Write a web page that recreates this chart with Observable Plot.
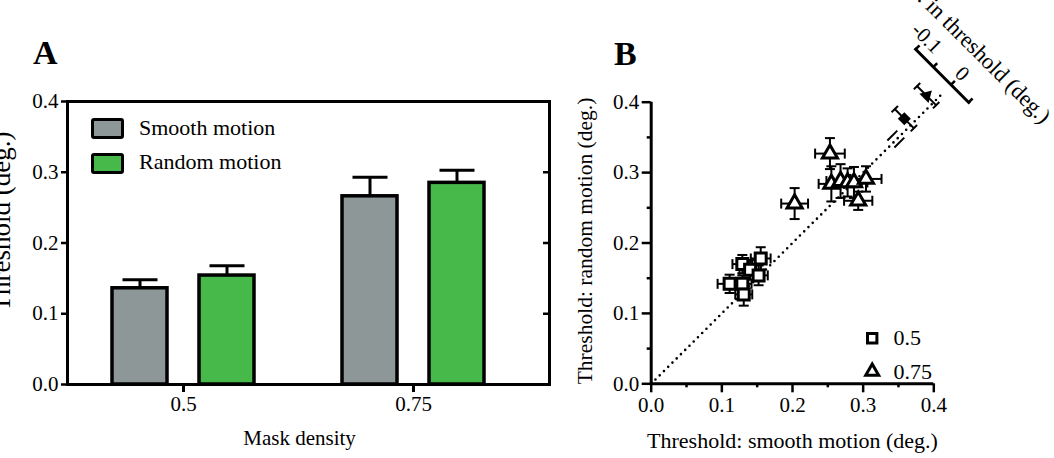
<!DOCTYPE html>
<html><head><meta charset="utf-8">
<script src="https://cdn.jsdelivr.net/npm/d3@7"></script>
<script src="https://cdn.jsdelivr.net/npm/@observablehq/plot@0.6"></script>
<style>
html,body{margin:0;padding:0;background:#fff;overflow:hidden}
#root{position:relative;width:1054px;height:458px;overflow:hidden;background:#fff;font-family:"Liberation Serif","Times New Roman",serif;color:#000}
#root > *{position:absolute}
.letter{font-weight:bold;font-size:34px;line-height:1}
.lgtext{font-size:22px;line-height:1;white-space:nowrap}
.swatch{box-sizing:border-box;width:33px;height:21px;border:3.5px solid #000;border-radius:3px}
</style></head><body><div id="root"></div>
<script>
// ---------- Panel A data ----------
const densities = ["0.5", "0.75"];
const seriesNames = ["Smooth motion", "Random motion"];
const smoothMean = [0.136, 0.266];
const smoothSem = [0.012, 0.027];
const randomMean = [0.154, 0.285];
const randomSem = [0.014, 0.018];
const seriesColors = ["#8e9797", "#47b94b"];
const yTicks = [0, 0.1, 0.2, 0.3, 0.4];
const minorTicks = [0.05, 0.15, 0.25, 0.35];

// ---------- Panel B data (per-observer thresholds, deg.) ----------
const squareSmooth = [0.111, 0.129, 0.131, 0.129, 0.140, 0.155, 0.152];
const squareRandom = [0.142, 0.142, 0.127, 0.170, 0.162, 0.178, 0.154];
const squareSmoothErr = [0.017, 0.013, 0.012, 0.014, 0.015, 0.014, 0.013];
const squareRandomErr = [0.013, 0.012, 0.016, 0.013, 0.014, 0.016, 0.014];
const triSmooth = [0.203, 0.253, 0.255, 0.268, 0.278, 0.287, 0.293, 0.304];
const triRandom = [0.256, 0.327, 0.284, 0.288, 0.286, 0.286, 0.260, 0.291];
const triSmoothErr = [0.019, 0.021, 0.018, 0.020, 0.020, 0.019, 0.020, 0.022];
const triRandomErr = [0.022, 0.022, 0.025, 0.024, 0.020, 0.022, 0.013, 0.018];
const legendGroups = ["0.5", "0.75"];

// identity line and its break
const diagonal = [0, 0.415];
const axisBreak = [0.347];
const diffAxisOrigin = 0.425;

// mean differences (smooth - random) on the rotated axis
const diffGroups = ["0.75", "0.5"];
const diffMean = [-0.019, -0.018];
const diffErr = [0.027, 0.027];
const diffTicks = [-0.1, -0.05, 0, 0.05];
const diffLabeled = [-0.1, 0];

const FONT = '"Liberation Serif","Times New Roman",serif';
const root = document.getElementById("root");

const capR = w => w / Math.sqrt(Math.PI);
const hCap = {draw(ctx, size){ const w = Math.sqrt(size); ctx.moveTo(-w/2, 0); ctx.lineTo(w/2, 0); }};
const vCap = {draw(ctx, size){ const h = Math.sqrt(size); ctx.moveTo(0, -h/2); ctx.lineTo(0, h/2); }};
const baseStyle = {fontFamily: FONT, fontSize: "21px", color: "#000", background: "transparent", overflow: "visible"};

// ---------- Panel A ----------
const rowsA = densities.flatMap((d, i) => [
  {density: d, series: seriesNames[0], mean: smoothMean[i], sem: smoothSem[i]},
  {density: d, series: seriesNames[1], mean: randomMean[i], sem: randomSem[i]}
]);
const smoothRows = rowsA.filter(r => r.series === seriesNames[0]);
const randomRows = rowsA.filter(r => r.series === seriesNames[1]);
const barOff = 43.5;

const plotA = Plot.plot({
  width: 560, height: 458,
  marginLeft: 67, marginRight: 11, marginTop: 101, marginBottom: 74,
  style: baseStyle,
  x: {domain: densities, paddingInner: 0, paddingOuter: 0.0433, align: 0.025, axis: null},
  y: {domain: [0, 0.4], axis: null},
  marks: [
    Plot.barY(smoothRows, {x: "density", y: "mean", fill: seriesColors[0], stroke: "#000", strokeWidth: 3.5, insetLeft: 44, insetRight: 131}),
    Plot.barY(randomRows, {x: "density", y: "mean", fill: seriesColors[1], stroke: "#000", strokeWidth: 3.5, insetLeft: 131, insetRight: 44}),
    Plot.ruleX(smoothRows, {x: "density", y1: "mean", y2: d => d.mean + d.sem, dx: -barOff, strokeWidth: 3, stroke: "#000"}),
    Plot.ruleX(randomRows, {x: "density", y1: "mean", y2: d => d.mean + d.sem, dx: barOff, strokeWidth: 3, stroke: "#000"}),
    Plot.dot(smoothRows, {x: "density", y: d => d.mean + d.sem, dx: -barOff, symbol: hCap, r: capR(35), fill: "none", stroke: "#000", strokeWidth: 3}),
    Plot.dot(randomRows, {x: "density", y: d => d.mean + d.sem, dx: barOff, symbol: hCap, r: capR(35), fill: "none", stroke: "#000", strokeWidth: 3}),
    Plot.frame({stroke: "#000", strokeWidth: 3}),
    Plot.axisY({ticks: yTicks, tickFormat: d3.format(".1f"), tickSize: 6, tickPadding: 3, strokeWidth: 2.5, label: null}),
    Plot.axisY({anchor: "right", ticks: [0.1, 0.2, 0.3], tickSize: -7, tickFormat: () => "", strokeWidth: 2.5, label: null}),
    Plot.axisX({tickSize: 8, tickPadding: 4, strokeWidth: 3, label: null}),
    Plot.text(["Mask density"], {frameAnchor: "bottom", dy: 54, dx: -9, lineAnchor: "middle"}),
    Plot.text(["Threshold (deg.)"], {frameAnchor: "left", rotate: -90, dx: -66, dy: -21.5, textAnchor: "middle", lineAnchor: "middle", fontSize: 27})
  ]
});
plotA.style.left = "0px"; plotA.style.top = "0px";
root.appendChild(plotA);

// ---------- Panel B ----------
const sqRows = squareSmooth.map((x, i) => ({x, y: squareRandom[i], xe: squareSmoothErr[i], ye: squareRandomErr[i]}));
const triRows = triSmooth.map((x, i) => ({x, y: triRandom[i], xe: triSmoothErr[i], ye: triRandomErr[i]}));
const allRows = [...sqRows, ...triRows];
const capW = 10;

const plotB = Plot.plot({
  width: 494, height: 458,
  marginLeft: 90.7, marginRight: 120.7, marginTop: 101.7, marginBottom: 74.7,
  style: baseStyle,
  x: {domain: [0, 0.4], axis: null},
  y: {domain: [0, 0.4], axis: null},
  marks: [
    Plot.line(diagonal, {x: d => d, y: d => d, stroke: "#000", strokeWidth: 2.6, strokeDasharray: "0,6", strokeLinecap: "round"}),
    Plot.link(axisBreak, {x1: d => d - 0.007, y1: d => d - 0.007, x2: d => d + 0.007, y2: d => d + 0.007, dx: -4, dy: -4, stroke: "#000", strokeWidth: 2}),
    Plot.link(axisBreak, {x1: d => d - 0.007, y1: d => d - 0.007, x2: d => d + 0.007, y2: d => d + 0.007, dx: 3, dy: 3, stroke: "#000", strokeWidth: 2}),
    Plot.link(allRows, {x1: d => d.x - d.xe, x2: d => d.x + d.xe, y1: "y", y2: "y", stroke: "#000", strokeWidth: 2}),
    Plot.link(allRows, {x1: "x", x2: "x", y1: d => d.y - d.ye, y2: d => d.y + d.ye, stroke: "#000", strokeWidth: 2}),
    Plot.dot(allRows, {x: d => d.x - d.xe, y: "y", symbol: vCap, r: capR(capW), fill: "none", stroke: "#000", strokeWidth: 2}),
    Plot.dot(allRows, {x: d => d.x + d.xe, y: "y", symbol: vCap, r: capR(capW), fill: "none", stroke: "#000", strokeWidth: 2}),
    Plot.dot(allRows, {x: "x", y: d => d.y - d.ye, symbol: hCap, r: capR(capW), fill: "none", stroke: "#000", strokeWidth: 2}),
    Plot.dot(allRows, {x: "x", y: d => d.y + d.ye, symbol: hCap, r: capR(capW), fill: "none", stroke: "#000", strokeWidth: 2}),
    Plot.dot(sqRows, {x: "x", y: "y", symbol: "square", r: 6.2, fill: "#fff", stroke: "#000", strokeWidth: 3}),
    Plot.dot(triRows, {x: "x", y: "y", symbol: "triangle", r: 5.6, fill: "#fff", stroke: "#000", strokeWidth: 3}),
    Plot.ruleX([0], {stroke: "#000", strokeWidth: 3}),
    Plot.ruleY([0], {stroke: "#000", strokeWidth: 3}),
    Plot.axisX({ticks: yTicks, tickFormat: d3.format(".1f"), tickSize: 9, tickPadding: 4, strokeWidth: 2.5, label: null}),
    Plot.axisX({ticks: minorTicks, tickFormat: () => "", tickSize: 4, strokeWidth: 2.5, label: null}),
    Plot.axisY({ticks: yTicks, tickFormat: d3.format(".1f"), tickSize: 9, tickPadding: 3, strokeWidth: 2.5, label: null}),
    Plot.axisY({ticks: minorTicks, tickFormat: () => "", tickSize: 4, strokeWidth: 2.5, label: null}),
    Plot.text(["Threshold: smooth motion (deg.)"], {frameAnchor: "bottom", dy: 56.7, lineAnchor: "middle", fontSize: 22}),
    Plot.text(["Threshold: random motion (deg.)"], {frameAnchor: "left", rotate: -90, dx: -65.7, dy: -2, textAnchor: "middle", lineAnchor: "middle", fontSize: 21.5}),
    // legend
    Plot.dot(legendGroups.slice(0, 1), {frameAnchor: "bottom-right", dx: -61.6, dy: -45.6, symbol: "square", r: 5.3, fill: "#fff", stroke: "#000", strokeWidth: 3}),
    Plot.dot(legendGroups.slice(1, 2), {frameAnchor: "bottom-right", dx: -61.6, dy: -12.3, symbol: "triangle", r: 4.8, fill: "#fff", stroke: "#000", strokeWidth: 3}),
    Plot.text(legendGroups.slice(0, 1), {frameAnchor: "bottom-right", dx: -40.3, dy: -45.6, textAnchor: "start", lineAnchor: "middle", fontSize: 22}),
    Plot.text(legendGroups.slice(1, 2), {frameAnchor: "bottom-right", dx: -40.3, dy: -12.3, textAnchor: "start", lineAnchor: "middle", fontSize: 22})
  ]
});
plotB.style.left = "560px"; plotB.style.top = "0px";
root.appendChild(plotB);

// ---------- Rotated difference axis inset ----------
const diffRows = diffGroups.map((g, i) => ({g, m: diffMean[i], e: diffErr[i]}));
const inset = Plot.plot({
  width: 300, height: 140,
  marginLeft: 110, marginRight: 115, marginTop: 60, marginBottom: 0,
  style: baseStyle,
  x: {domain: [-0.1, 0.05], axis: null},
  y: {type: "point", domain: diffGroups, range: [84.3, 116.8], padding: 0, axis: null},
  marks: [
    Plot.frame({anchor: "top", stroke: "#000", strokeWidth: 3}),
    Plot.axisX({anchor: "top", ticks: diffTicks, tickSize: 6, tickPadding: 3, strokeWidth: 2.5, label: null,
      tickFormat: d => diffLabeled.includes(d) ? d3.format(".1~f")(d).replace("\u2212", "-") : ""}),
    Plot.ruleY(diffRows, {y: "g", x1: d => d.m - d.e, x2: d => d.m + d.e, stroke: "#000", strokeWidth: 2}),
    Plot.dot(diffRows, {x: d => d.m - d.e, y: "g", symbol: vCap, r: capR(9), fill: "none", stroke: "#000", strokeWidth: 2}),
    Plot.dot(diffRows, {x: d => d.m + d.e, y: "g", symbol: vCap, r: capR(9), fill: "none", stroke: "#000", strokeWidth: 2}),
    Plot.dot(diffRows.filter(d => d.g === "0.5"), {x: "m", y: "g", symbol: "square", r: 5.2, fill: "#000"}),
    Plot.dot(diffRows.filter(d => d.g === "0.75"), {x: "m", y: "g", symbol: "triangle", r: 4.8, fill: "#000"}),
    Plot.text(["Diff. in threshold (deg.)"], {frameAnchor: "top", dy: -43, dx: -2, fontSize: 22.5, lineAnchor: "middle"})
  ]
});
const sx = plotB.scale("x"), sy = plotB.scale("y");
const ox = 560 + sx.apply(diffAxisOrigin), oy = sy.apply(diffAxisOrigin);
inset.style.left = (ox - 160) + "px";
inset.style.top = (oy - 60) + "px";
inset.style.transformOrigin = "160px 60px";
inset.style.transform = "rotate(45deg)";
root.appendChild(inset);

// ---------- Panel letters and legend A ----------
function addDiv(cls, text, left, top, extra) {
  const d = document.createElement("div");
  d.className = cls; d.textContent = text;
  d.style.left = left + "px"; d.style.top = top + "px";
  if (extra) Object.assign(d.style, extra);
  root.appendChild(d);
  return d;
}
addDiv("letter", "A", 33, 35.5);
addDiv("letter", "B", 614, 36.5);
seriesNames.forEach((name, i) => {
  addDiv("swatch", "", 91, 118 + i * 34.5, {background: seriesColors[i]});
  addDiv("lgtext", name, 139, 116.8 + i * 34);
});
</script></body></html>
